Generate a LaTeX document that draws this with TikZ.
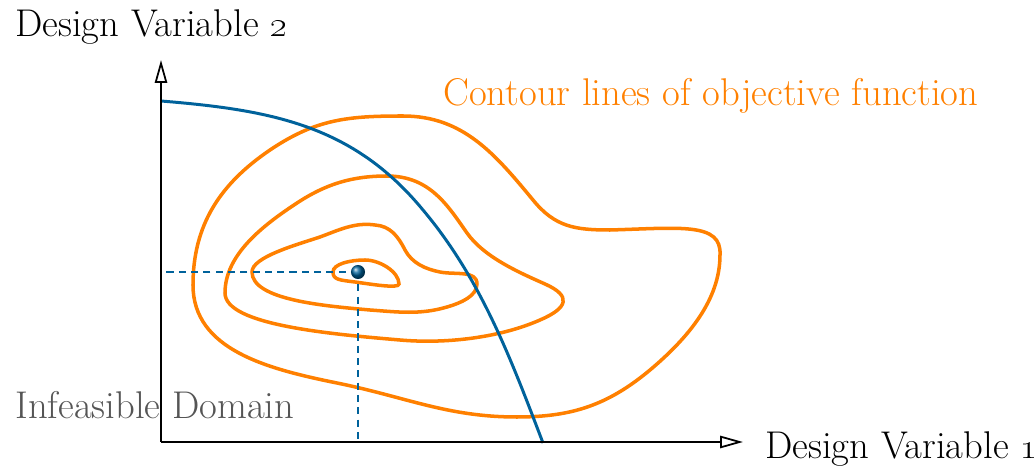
\documentclass[tikz,border=0pt]{standalone}
\usepackage{tikz}
\usetikzlibrary{arrows.meta, calc}

\definecolor{contourorange}{RGB}{255,128,0}
\definecolor{boundblue}{RGB}{0,98,155}
\definecolor{labelgray}{RGB}{85,85,85}

\tikzset{
    axis/.style={line width=1pt, -{Triangle[open, length=13pt, width=7pt]}},
    contour/.style={contourorange, line width=2pt},
    boundary/.style={boundblue, line width=1.7pt},
    guide/.style={boundblue, line width=0.8pt, dash pattern=on 4pt off 3pt},
    axlabel/.style={anchor=base west, inner sep=0pt, font=\fontsize{22}{26}\selectfont},
}

\begin{document}
\begin{tikzpicture}[x=0.02cm, y=-0.02cm]
    \useasboundingbox (0,0) rectangle (1036,469);

    % --- 1. 定義原點、軸端與最優點 P ---
    \coordinate (O) at (161,442);
    \coordinate (X) at (743,442);
    \coordinate (Y) at (161,60);
    \coordinate (P) at (358,272);

    % --- 2. 等高線 (由外到內) ---
    \draw[contour] (403,116) .. controls (463,116) and (495,154) .. (533,200)
        .. controls (555,227) and (575,230) .. (610,230)
        .. controls (680,228) and (722,222) .. (720,255)
        .. controls (720,300) and (688,338) .. (650,370)
        .. controls (608,405) and (572,417) .. (517,417)
        .. controls (447,417) and (406,397) .. (337,383)
        .. controls (268,369) and (193,350) .. (193,285)
        .. controls (193,225) and (220,184) .. (270,150)
        .. controls (316,119) and (348,116) .. cycle;
    \draw[contour] (387,176) .. controls (430,176) and (448,206) .. (467,233)
        .. controls (484,257) and (518,272) .. (545,284)
        .. controls (572,296) and (568,308) .. (540,320)
        .. controls (499,338) and (445,344) .. (400,340)
        .. controls (330,334) and (225,325) .. (225,293)
        .. controls (225,255) and (262,226) .. (297,203)
        .. controls (326,184) and (352,176) .. cycle;
    \draw[contour] (375,225) .. controls (390,226) and (398,236) .. (405,250)
        .. controls (412,263) and (425,269) .. (440,272)
        .. controls (455,275) and (477,270) .. (477,284)
        .. controls (477,296) and (461,303) .. (447,307)
        .. controls (420,315) and (398,312) .. (370,310)
        .. controls (325,306) and (252,300) .. (252,272)
        .. controls (252,257) and (296,245) .. (320,237)
        .. controls (339,230) and (355,222) .. cycle;
    \draw[contour] (333,272) .. controls (333,264) and (350,260) .. (365,260)
        .. controls (380,260) and (399,272) .. (399,284)
        .. controls (399,289) and (370,284) .. (355,282)
        .. controls (340,280) and (333,280) .. cycle;

    % --- 3. 可行域邊界 ---
    \draw[boundary] (161,101) .. controls (271,110) and (353,125) .. (423,210)
        .. controls (481,279) and (511,359) .. (543,443);

    % --- 4. 軸與輔助虛線 ---
    \draw[guide] (P) -- (P -| O);
    \draw[guide] (P) -- (P |- O);
    \draw[axis] (O) -- (X);
    \draw[axis] (O) -- (Y);
    \shade[ball color=boundblue] (P) circle (4pt);

    % --- 5. 標籤 ---
    \node[axlabel] (ylab) at (15,37) {Design Variable \oldstylenums{2}};
    \node[axlabel] (xlab) at (765,459) {Design Variable \oldstylenums{1}};
    \node[axlabel, contourorange] (cl) at (443,106) {Contour lines of objective function};
    \node[axlabel, labelgray] (inf) at (15,419) {Infeasible Domain};
\end{tikzpicture}
\end{document}
